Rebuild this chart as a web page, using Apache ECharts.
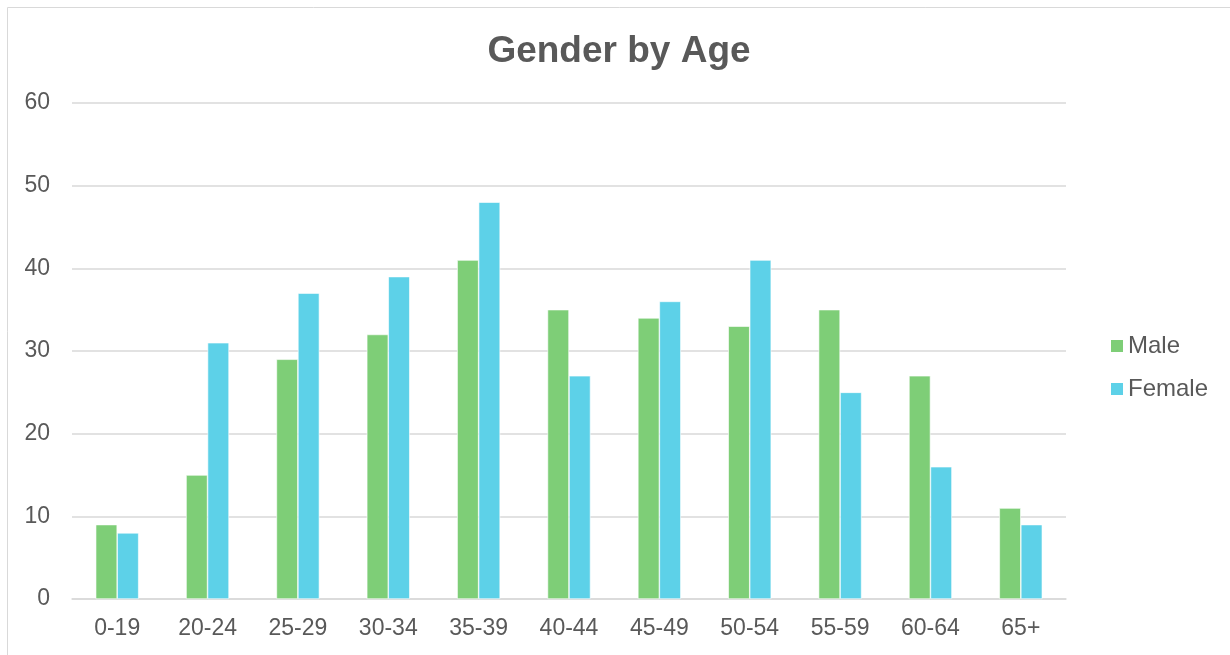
<!DOCTYPE html>
<html>
<head>
<meta charset="utf-8">
<script src="https://cdn.jsdelivr.net/npm/echarts@6/dist/echarts.min.js"></script>
<style>
  html, body { margin: 0; padding: 0; background: #fff; }
  #chart { width: 1230px; height: 655px; }
</style>
</head>
<body>
<div id="chart"></div>
<script>
const categories = ['0-19', '20-24', '25-29', '30-34', '35-39', '40-44', '45-49', '50-54', '55-59', '60-64', '65+']
const maleValues = [9, 15, 29, 32, 41, 35, 34, 33, 35, 27, 11]
const femaleValues = [8, 31, 37, 39, 48, 27, 36, 41, 25, 16, 9]

const chart = echarts.init(document.getElementById('chart'))

const textColor = '#595959'
const fontFamily = 'Liberation Sans, Arial, sans-serif'

chart.setOption({
  animation: false,
  graphic: [
    {
      type: 'rect',
      shape: { x: 7.5, y: 7.5, width: 1240, height: 660 },
      style: { fill: 'none', stroke: '#d9d9d9', lineWidth: 1 },
      silent: true,
    },
  ],
  title: {
    text: 'Gender by Age',
    left: 614,
    textAlign: 'center',
    top: 28,
    textStyle: { color: textColor, fontSize: 37, fontWeight: 'bold', fontFamily },
  },
  legend: {
    orient: 'vertical',
    left: 1104,
    top: 329,
    itemWidth: 14,
    itemHeight: 14,
    itemGap: 19,
    icon: 'rect',
    textStyle: { color: textColor, fontSize: 24, fontFamily, padding: [0, 0, 0, -1] },
    data: ['Male', 'Female'],
  },
  grid: {
    left: 72,
    right: 164,
    top: 103,
    bottom: 56,
    containLabel: false,
  },
  xAxis: {
    type: 'category',
    data: categories,
    axisLine: { lineStyle: { color: '#d9d9d9', width: 1.5 } },
    axisTick: { show: false },
    axisLabel: { color: textColor, fontSize: 23, fontFamily, margin: 18 },
  },
  yAxis: {
    type: 'value',
    min: 0,
    max: 60,
    interval: 10,
    axisLine: { show: false },
    axisTick: { show: false },
    splitLine: { lineStyle: { color: '#d9d9d9', width: 1.5 } },
    axisLabel: { color: textColor, fontSize: 23, fontFamily, margin: 22 },
  },
  series: [
    {
      name: 'Male',
      type: 'bar',
      data: maleValues,
      barWidth: 21.5,
      barGap: '0%',
      itemStyle: { color: '#7ece77', borderColor: '#ffffff', borderWidth: 0.6 },
    },
    {
      name: 'Female',
      type: 'bar',
      data: femaleValues,
      barWidth: 21.5,
      itemStyle: { color: '#5dd1e8', borderColor: '#ffffff', borderWidth: 0.6 },
    },
  ],
})
</script>
</body>
</html>
